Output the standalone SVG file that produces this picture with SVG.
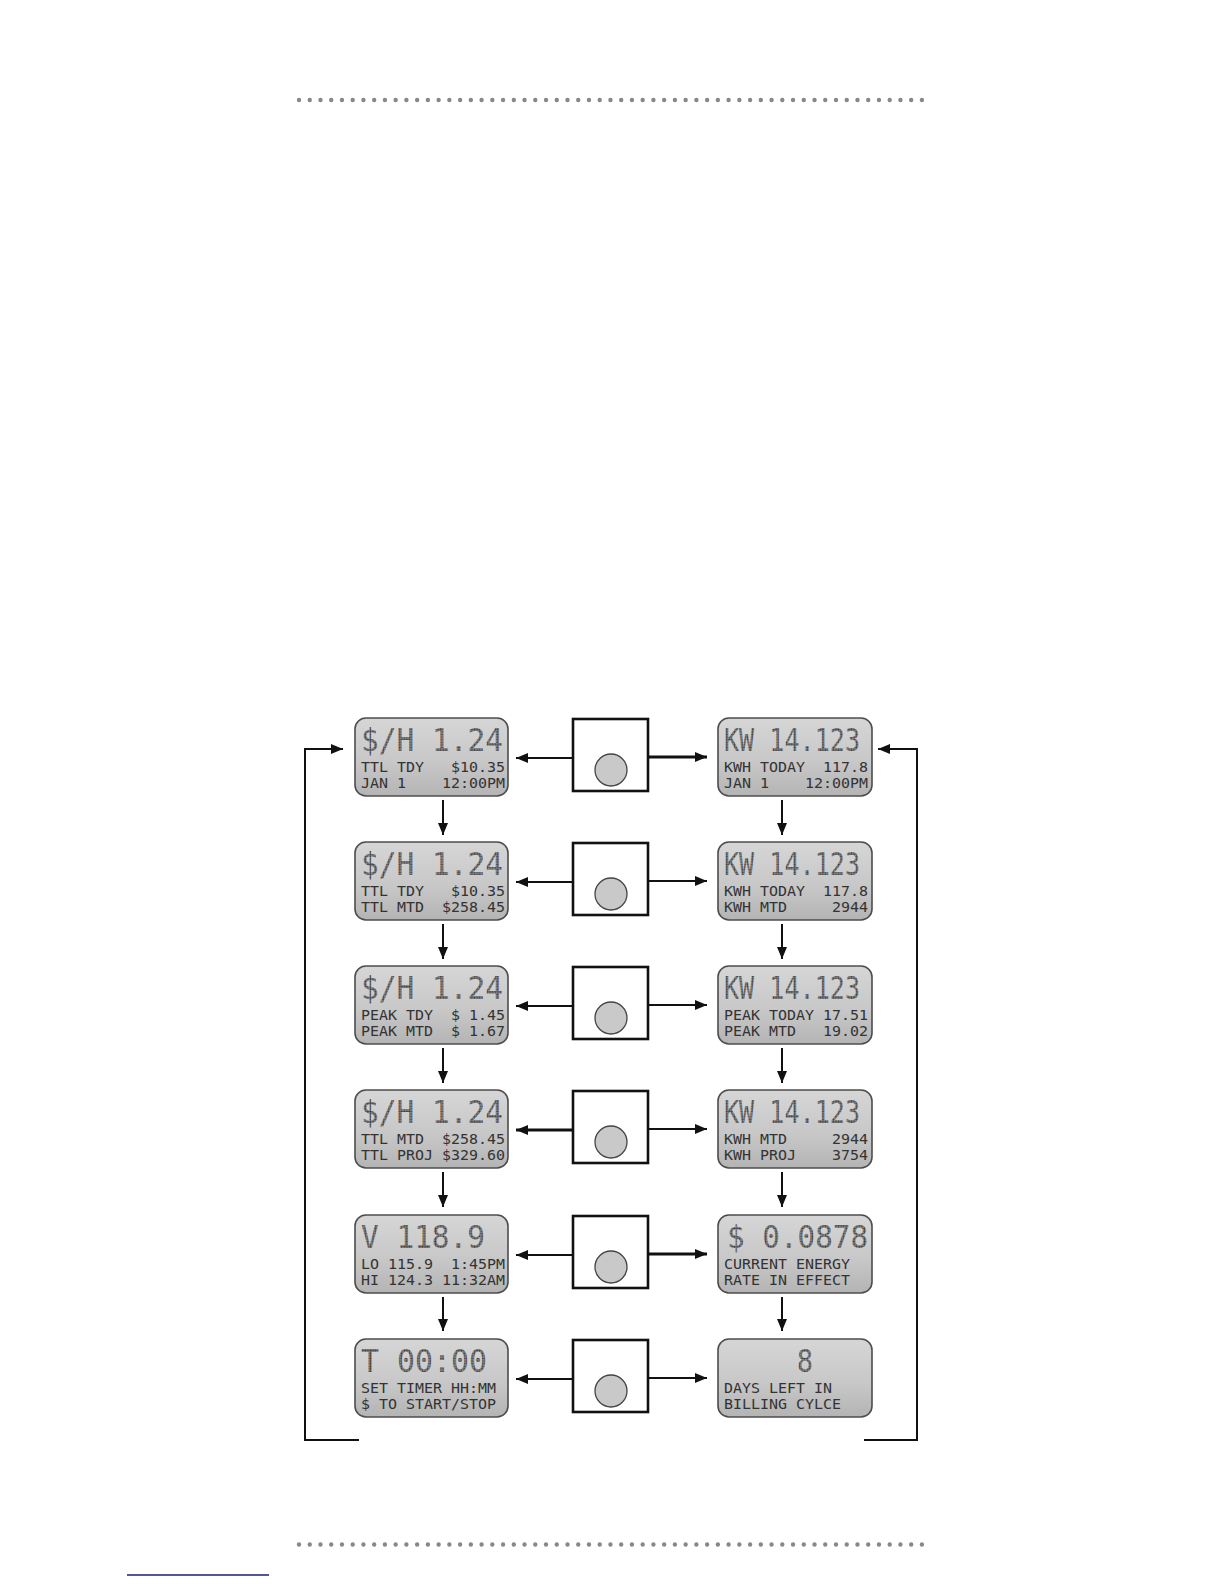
<svg xmlns="http://www.w3.org/2000/svg" width="1224" height="1584" viewBox="0 0 1224 1584" xml:space="preserve">
<style>
.lcd{fill:url(#lcdg);stroke:#4d4d4d;stroke-width:1.6}
.big{font-family:"DejaVu Sans Mono","Liberation Mono",monospace;font-size:32px;fill:url(#dotfill);white-space:pre}
.sm{font-family:"DejaVu Sans Mono","Liberation Mono",monospace;font-size:13.5px;fill:#333;white-space:pre}
.btn{fill:#fff;stroke:#111;stroke-width:2.6}
.knob{fill:#c9c9c9;stroke:#444;stroke-width:1.3}
.ar{fill:none;stroke:#111;stroke-width:2;marker-end:url(#ah)}
.ar2{fill:none;stroke:#111;stroke-width:2.8;marker-end:url(#ah)}
.dots{stroke:#888;stroke-width:4.4;stroke-linecap:round;stroke-dasharray:0 10.74}
</style>
<defs>
<linearGradient id="lcdg" x1="0" y1="0" x2="0" y2="1">
<stop offset="0" stop-color="#d6d6d6"/>
<stop offset="0.55" stop-color="#c8c8c8"/>
<stop offset="1" stop-color="#b4b4b4"/>
</linearGradient>
<pattern id="dotfill" patternUnits="userSpaceOnUse" width="2.6" height="2.6">
<rect width="2.6" height="2.6" fill="#9a9a9a"/>
<circle cx="1.3" cy="1.3" r="1.05" fill="#3e3e3e"/>
</pattern>
<marker id="ah" viewBox="0 0 12 10" refX="12" refY="5" markerWidth="12" markerHeight="10" markerUnits="userSpaceOnUse" orient="auto">
<path d="M0,0 L12,5 L0,10 z" fill="#111"/>
</marker>
</defs>
<rect width="1224" height="1584" fill="#fff"/>
<line class="dots" x1="299" y1="100" x2="922" y2="100"/>
<line class="dots" x1="299" y1="1544.5" x2="922" y2="1544.5"/>
<line x1="127" y1="1575" x2="269" y2="1575" stroke="#1a1a80" stroke-width="1.6"/>

<g id="connectors">
<path class="ar" d="M359,1440 H305 V749 H343"/>
<path class="ar" d="M864,1440 H917 V749 H878"/>
<line class="ar" x1="573" y1="758" x2="516" y2="758"/>
<line class="ar2" x1="648" y1="757" x2="707" y2="757"/>
<line class="ar" x1="573" y1="882" x2="516" y2="882"/>
<line class="ar" x1="648" y1="881" x2="707" y2="881"/>
<line class="ar" x1="573" y1="1006" x2="516" y2="1006"/>
<line class="ar" x1="648" y1="1005" x2="707" y2="1005"/>
<line class="ar2" x1="573" y1="1130" x2="516" y2="1130"/>
<line class="ar" x1="648" y1="1129" x2="707" y2="1129"/>
<line class="ar" x1="573" y1="1255" x2="516" y2="1255"/>
<line class="ar2" x1="648" y1="1254" x2="707" y2="1254"/>
<line class="ar" x1="573" y1="1379" x2="516" y2="1379"/>
<line class="ar" x1="648" y1="1378" x2="707" y2="1378"/>
<line class="ar" x1="443" y1="800" x2="443" y2="835"/>
<line class="ar" x1="443" y1="924" x2="443" y2="959"/>
<line class="ar" x1="443" y1="1048" x2="443" y2="1083"/>
<line class="ar" x1="443" y1="1172" x2="443" y2="1207"/>
<line class="ar" x1="443" y1="1297" x2="443" y2="1331"/>
<line class="ar" x1="782" y1="800" x2="782" y2="835"/>
<line class="ar" x1="782" y1="924" x2="782" y2="959"/>
<line class="ar" x1="782" y1="1048" x2="782" y2="1083"/>
<line class="ar" x1="782" y1="1172" x2="782" y2="1207"/>
<line class="ar" x1="782" y1="1297" x2="782" y2="1331"/>
</g>

<g id="btn1"><rect class="btn" x="573" y="719" width="75" height="72"/><circle class="knob" cx="611" cy="770" r="16"/></g>
<g id="btn2"><rect class="btn" x="573" y="843" width="75" height="72"/><circle class="knob" cx="611" cy="894" r="16"/></g>
<g id="btn3"><rect class="btn" x="573" y="967" width="75" height="72"/><circle class="knob" cx="611" cy="1018" r="16"/></g>
<g id="btn4"><rect class="btn" x="573" y="1091" width="75" height="72"/><circle class="knob" cx="611" cy="1142" r="16"/></g>
<g id="btn5"><rect class="btn" x="573" y="1216" width="75" height="72"/><circle class="knob" cx="611" cy="1267" r="16"/></g>
<g id="btn6"><rect class="btn" x="573" y="1340" width="75" height="72"/><circle class="knob" cx="611" cy="1391" r="16"/></g>

<g id="lcd-l1"><rect class="lcd" x="355" y="718" width="153" height="78" rx="11"/>
<text class="big" x="361" y="751" textLength="142" lengthAdjust="spacingAndGlyphs">$/H 1.24</text>
<text class="sm" x="361" y="772" textLength="144" lengthAdjust="spacingAndGlyphs">TTL TDY   $10.35</text>
<text class="sm" x="361" y="788" textLength="144" lengthAdjust="spacingAndGlyphs">JAN 1    12:00PM</text></g>
<g id="lcd-r1"><rect class="lcd" x="718" y="718" width="154" height="78" rx="11"/>
<text class="big" x="724" y="751" textLength="136" lengthAdjust="spacingAndGlyphs">KW 14.123</text>
<text class="sm" x="724" y="772" textLength="144" lengthAdjust="spacingAndGlyphs">KWH TODAY  117.8</text>
<text class="sm" x="724" y="788" textLength="144" lengthAdjust="spacingAndGlyphs">JAN 1    12:00PM</text></g>

<g id="lcd-l2"><rect class="lcd" x="355" y="842" width="153" height="78" rx="11"/>
<text class="big" x="361" y="875" textLength="142" lengthAdjust="spacingAndGlyphs">$/H 1.24</text>
<text class="sm" x="361" y="896" textLength="144" lengthAdjust="spacingAndGlyphs">TTL TDY   $10.35</text>
<text class="sm" x="361" y="912" textLength="144" lengthAdjust="spacingAndGlyphs">TTL MTD  $258.45</text></g>
<g id="lcd-r2"><rect class="lcd" x="718" y="842" width="154" height="78" rx="11"/>
<text class="big" x="724" y="875" textLength="136" lengthAdjust="spacingAndGlyphs">KW 14.123</text>
<text class="sm" x="724" y="896" textLength="144" lengthAdjust="spacingAndGlyphs">KWH TODAY  117.8</text>
<text class="sm" x="724" y="912" textLength="144" lengthAdjust="spacingAndGlyphs">KWH MTD     2944</text></g>

<g id="lcd-l3"><rect class="lcd" x="355" y="966" width="153" height="78" rx="11"/>
<text class="big" x="361" y="999" textLength="142" lengthAdjust="spacingAndGlyphs">$/H 1.24</text>
<text class="sm" x="361" y="1020" textLength="144" lengthAdjust="spacingAndGlyphs">PEAK TDY  $ 1.45</text>
<text class="sm" x="361" y="1036" textLength="144" lengthAdjust="spacingAndGlyphs">PEAK MTD  $ 1.67</text></g>
<g id="lcd-r3"><rect class="lcd" x="718" y="966" width="154" height="78" rx="11"/>
<text class="big" x="724" y="999" textLength="136" lengthAdjust="spacingAndGlyphs">KW 14.123</text>
<text class="sm" x="724" y="1020" textLength="144" lengthAdjust="spacingAndGlyphs">PEAK TODAY 17.51</text>
<text class="sm" x="724" y="1036" textLength="144" lengthAdjust="spacingAndGlyphs">PEAK MTD   19.02</text></g>

<g id="lcd-l4"><rect class="lcd" x="355" y="1090" width="153" height="78" rx="11"/>
<text class="big" x="361" y="1123" textLength="142" lengthAdjust="spacingAndGlyphs">$/H 1.24</text>
<text class="sm" x="361" y="1144" textLength="144" lengthAdjust="spacingAndGlyphs">TTL MTD  $258.45</text>
<text class="sm" x="361" y="1160" textLength="144" lengthAdjust="spacingAndGlyphs">TTL PROJ $329.60</text></g>
<g id="lcd-r4"><rect class="lcd" x="718" y="1090" width="154" height="78" rx="11"/>
<text class="big" x="724" y="1123" textLength="136" lengthAdjust="spacingAndGlyphs">KW 14.123</text>
<text class="sm" x="724" y="1144" textLength="144" lengthAdjust="spacingAndGlyphs">KWH MTD     2944</text>
<text class="sm" x="724" y="1160" textLength="144" lengthAdjust="spacingAndGlyphs">KWH PROJ    3754</text></g>

<g id="lcd-l5"><rect class="lcd" x="355" y="1215" width="153" height="78" rx="11"/>
<text class="big" x="361" y="1248" textLength="124" lengthAdjust="spacingAndGlyphs">V 118.9</text>
<text class="sm" x="361" y="1269" textLength="144" lengthAdjust="spacingAndGlyphs">LO 115.9  1:45PM</text>
<text class="sm" x="361" y="1285" textLength="144" lengthAdjust="spacingAndGlyphs">HI 124.3 11:32AM</text></g>
<g id="lcd-r5"><rect class="lcd" x="718" y="1215" width="154" height="78" rx="11"/>
<text class="big" x="727" y="1248" textLength="141" lengthAdjust="spacingAndGlyphs">$ 0.0878</text>
<text class="sm" x="724" y="1269" textLength="126" lengthAdjust="spacingAndGlyphs">CURRENT ENERGY</text>
<text class="sm" x="724" y="1285" textLength="126" lengthAdjust="spacingAndGlyphs">RATE IN EFFECT</text></g>

<g id="lcd-l6"><rect class="lcd" x="355" y="1339" width="153" height="78" rx="11"/>
<text class="big" x="361" y="1372" textLength="126" lengthAdjust="spacingAndGlyphs">T 00:00</text>
<text class="sm" x="361" y="1393" textLength="135" lengthAdjust="spacingAndGlyphs">SET TIMER HH:MM</text>
<text class="sm" x="361" y="1409" textLength="135" lengthAdjust="spacingAndGlyphs">$ TO START/STOP</text></g>
<g id="lcd-r6"><rect class="lcd" x="718" y="1339" width="154" height="78" rx="11"/>
<text class="big" x="797" y="1372" textLength="16" lengthAdjust="spacingAndGlyphs">8</text>
<text class="sm" x="724" y="1393" textLength="108" lengthAdjust="spacingAndGlyphs">DAYS LEFT IN</text>
<text class="sm" x="724" y="1409" textLength="117" lengthAdjust="spacingAndGlyphs">BILLING CYLCE</text></g>
</svg>
